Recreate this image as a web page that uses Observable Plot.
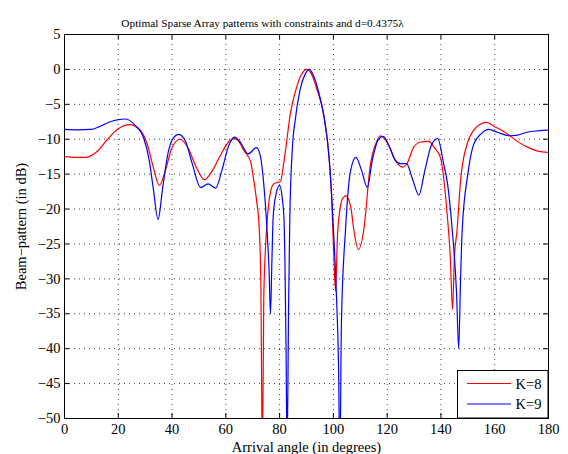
<!DOCTYPE html>
<html>
<head>
<meta charset="utf-8">
<script src="https://cdn.jsdelivr.net/npm/d3@7"></script>
<script src="https://cdn.jsdelivr.net/npm/@observablehq/plot@0.6"></script>
<style>
  html, body { margin: 0; padding: 0; background: #fff; }
  #chart svg text { font-family: 'Liberation Serif', 'Times New Roman', serif !important; }
</style>
</head>
<body>
<div id="chart"></div>
<script>
const titleText = "Optimal Sparse Array patterns with constraints and d=0.4375λ";
const xLabel = "Arrival angle (in degrees)";
const yLabel = "Beam−pattern (in dB)";
const xTicks = [0, 20, 40, 60, 80, 100, 120, 140, 160, 180];
const yTicks = [5, 0, -5, -10, -15, -20, -25, -30, -35, -40, -45, -50];
const seriesNames = ["K=8", "K=9"];
const seriesColors = ["#ff0000", "#0000ff"];

// K=8 (red)
const angleK8 = [0,4,8,12,16,20,24,28,31,33,35.3,37.5,40,43,46,49,52,55,58,61,63.2,65,66.7,69.2,70.4,71.5,72.3,73.0,73.6,74.1,74.7,75.4,76.5,77.8,79,80.3,81,82.2,84,86,88,90.2,92,94,96.4,98,99.3,100,100.8,101.5,102.4,103.3,104.7,106.5,107.6,109.3,111.3,113.8,115.7,117.5,120,123,125.6,127.5,129.9,132.5,135.5,137.5,139.8,142.3,143.5,144.3,145,146,147.3,149.7,152,154,156.9,160,164.6,168,172,176,180];
const valueK8 = [-12.5,-12.6,-12.6,-11.8,-10.0,-8.5,-7.9,-8.6,-11.0,-14.0,-16.6,-14.5,-11.2,-10.0,-11.3,-14.0,-15.8,-14.5,-12.3,-10.4,-9.9,-10.4,-11.6,-13.2,-15.9,-19,-22,-30,-56,-33,-26,-21.5,-17.8,-16.4,-16.2,-16.1,-14.8,-11.6,-6.3,-3.0,-0.8,0,-0.8,-3.0,-6.4,-11,-18,-25,-31.8,-24,-20.2,-18.6,-18.1,-19.8,-23,-25.8,-23,-13.5,-10.7,-9.5,-10.5,-13,-14.0,-13.4,-11.1,-10.4,-10.3,-11.2,-12.6,-20.7,-27,-34.4,-27,-23,-15.9,-10.7,-8.8,-8.0,-7.6,-8.2,-9.2,-10.2,-11.1,-11.7,-11.9];

// K=9 (blue)
const angleK9 = [0,5,9.7,13,17,20,22.7,26,29.5,31.5,33,34.8,36.5,38.5,40.5,42.5,45,47.5,50.6,53.4,56.2,58.5,61,63.2,65.5,68.3,71.4,72.9,74.1,75.4,76.1,76.6,77.1,77.6,78.6,80,81,81.6,82.0,82.4,82.8,83.3,83.8,84.7,85.9,87.8,89.6,91,92.5,94.5,96.5,98.5,99.5,100.3,101.2,101.9,102.4,103,104.5,106.4,108.4,110.5,112.6,114.5,116.5,118.5,121,123,125,127.2,129.5,131.8,134,136.5,138.8,141,142.5,144.2,145.8,146.6,147.3,147.9,150,152.2,155,157.8,161,165.2,168.5,172,176,180];
const valueK9 = [-8.6,-8.65,-8.6,-8.2,-7.5,-7.2,-7.1,-7.9,-9.9,-13,-17,-21.5,-17,-12,-9.8,-9.3,-10.3,-13.5,-16.9,-16.4,-17.0,-14.5,-11,-9.7,-10.5,-12.1,-11.2,-12.5,-16.4,-23.5,-29,-35,-28,-21.2,-18,-16.6,-18.5,-21.2,-28,-40,-56,-35,-21.2,-11.6,-7.0,-2.6,-0.6,0,-0.8,-3.2,-6.8,-13,-19,-25,-33,-42,-56,-36,-23,-14.5,-12.6,-14.5,-16.9,-13,-10.2,-9.6,-11.2,-13.0,-13.5,-13.5,-15.8,-18.0,-14.5,-10.8,-9.9,-13.5,-16.5,-23,-32,-40,-30,-23,-15,-10.7,-9.2,-8.6,-9,-9.5,-9.4,-9.0,-8.8,-8.7];

const k8 = angleK8.map((a, i) => ({angle: a, value: valueK8[i]}));
const k9 = angleK9.map((a, i) => ({angle: a, value: valueK9[i]}));

const W = 568, H = 454, mL = 64, mR = 20, mT = 34, mB = 36;
const fw = W - mL - mR, fh = H - mT - mB;
const fmt = d => d < 0 ? "\u2212" + (-d) : String(d);
const serif = "'Liberation Serif', 'Times New Roman', serif";

const chart = Plot.plot({
  width: W, height: H,
  marginLeft: mL, marginRight: mR, marginTop: mT, marginBottom: mB,
  style: {fontFamily: serif, fontSize: "14.5px", background: "#fff", color: "#000"},
  x: {domain: [0, 180], ticks: xTicks},
  y: {domain: [-50, 5], ticks: yTicks},
  marks: [
    Plot.gridX(xTicks, {stroke: "#000", strokeOpacity: 0.75, strokeDasharray: "1,4"}),
    Plot.gridY(yTicks, {stroke: "#000", strokeOpacity: 0.75, strokeDasharray: "1,4"}),
    Plot.line(k8, {x: "angle", y: "value", stroke: seriesColors[0], strokeWidth: 1.2, curve: "monotone-x", clip: true}),
    Plot.line(k9, {x: "angle", y: "value", stroke: seriesColors[1], strokeWidth: 1.2, curve: "monotone-x", clip: true}),
    Plot.tickX(xTicks, {x: d => d, insetTop: fh - 5, stroke: "#000"}),
    Plot.tickX(xTicks, {x: d => d, insetBottom: fh - 5, stroke: "#000"}),
    Plot.tickY(yTicks, {y: d => d, insetRight: fw - 5, stroke: "#000"}),
    Plot.tickY(yTicks, {y: d => d, insetLeft: fw - 5, stroke: "#000"}),
    Plot.frame({stroke: "#000"}),
    Plot.axisX(xTicks, {tickSize: 0, tickPadding: 5, tickFormat: fmt, fontSize: 14.5, label: xLabel, labelAnchor: "center", labelArrow: "none", labelOffset: 33}),
    Plot.axisY(yTicks, {tickSize: 0, tickPadding: 4, tickFormat: fmt, fontSize: 14.5, label: yLabel, labelAnchor: "center", labelArrow: "none", labelOffset: 49}),
    Plot.text([titleText], {text: d => d, frameAnchor: "top-left", dx: 198, dy: -16, textAnchor: "middle", fontSize: 11.3})
  ]
});

document.getElementById("chart").appendChild(chart);

// Legend box (bottom-right inside axes)
const svg = d3.select(chart);
const lg = svg.append("g").attr("font-family", serif).attr("font-size", 14.5).attr("text-anchor", "start");
lg.append("rect").attr("x", 457.5).attr("y", 370.5).attr("width", W - mR - 457.5).attr("height", H - mB - 370.5)
  .attr("fill", "#fff").attr("stroke", "#000");
seriesNames.forEach((name, i) => {
  const yy = 383.5 + i * 20.5;
  lg.append("line").attr("x1", 467).attr("x2", 511).attr("y1", yy).attr("y2", yy)
    .attr("stroke", seriesColors[i]).attr("stroke-width", 1.2);
  lg.append("text").attr("x", 515.5).attr("y", yy).attr("dy", "0.35em").attr("text-anchor", "start").text(name);
});
</script>
</body>
</html>
